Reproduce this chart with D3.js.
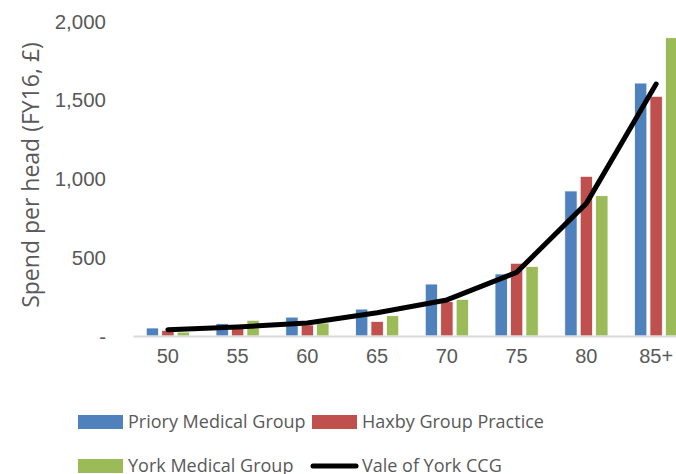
<!DOCTYPE html>
<html>
<head>
<meta charset="utf-8">
<script src="https://cdn.jsdelivr.net/npm/d3@7"></script>
<style>
  html, body { margin: 0; padding: 0; background: #fff; }
  svg { display: block; font-family: "Open Sans", "Liberation Sans", sans-serif; }
</style>
</head>
<body>
<svg id="chart" width="676" height="474"></svg>
<script>
// Age bands and spend per head (FY16, £)
const ageBands = ["50", "55", "60", "65", "70", "75", "80", "85+"];
const priory = [51, 80, 120, 171, 330, 394, 921, 1606];
const haxby = [36, 57, 70, 93, 218, 462, 1014, 1522];
const yorkMedical = [25, 100, 82, 129, 233, 442, 891, 1894];
const valeOfYork = [40, 57, 83, 148, 229, 404, 842, 1600];
const yTicks = [0, 500, 1000, 1500, 2000];

const barSeries = [
  { name: "Priory Medical Group", values: priory, color: "#4F81BD" },
  { name: "Haxby Group Practice", values: haxby, color: "#C0504D" },
  { name: "York Medical Group", values: yorkMedical, color: "#9BBB59" }
];
const lineSeries = { name: "Vale of York CCG", values: valeOfYork, color: "#000000" };

const svg = d3.select("#chart");
const textColor = "#595959";

const x = d3.scaleBand().domain(ageBands).range([133, 691]).paddingInner(0).paddingOuter(0);
const xInner = d3.scaleBand().domain(barSeries.map(s => s.name))
  .range([x.bandwidth() * 0.19, x.bandwidth() * 0.81]).paddingInner(0.2);
const y = d3.scaleLinear().domain([0, 2000]).range([336, 21]);

// Y axis labels
const yAxis = d3.axisLeft(y).tickValues(yTicks).tickSize(0).tickPadding(0)
  .tickFormat(d => d === 0 ? "-" : d3.format(",")(d));
const yg = svg.append("g").attr("transform", "translate(106,0)").call(yAxis);
yg.select(".domain").remove();
yg.selectAll("text").attr("fill", textColor).attr("font-size", 20.5).attr("dy", "0.35em");

// Axis title
svg.append("text")
  .attr("transform", "translate(39,175) rotate(-90)")
  .attr("text-anchor", "middle")
  .attr("font-size", 23)
  .attr("fill", textColor)
  .text("Spend per head (FY16, £)");

// Bars
const groups = svg.append("g").selectAll("g")
  .data(ageBands)
  .join("g")
  .attr("transform", d => `translate(${x(d)},0)`);

groups.selectAll("rect")
  .data((d, i) => barSeries.map(s => ({ series: s, value: s.values[i] })))
  .join("rect")
  .attr("x", d => xInner(d.series.name))
  .attr("width", xInner.bandwidth())
  .attr("y", d => y(d.value))
  .attr("height", d => y(0) - y(d.value))
  .attr("fill", d => d.series.color)
  .attr("stroke", "#fff")
  .attr("stroke-width", 0.8);

// Category axis
const xAxis = d3.axisBottom(x).tickSize(0).tickPadding(0);
const xg = svg.append("g").attr("transform", `translate(0,${y(0)})`).call(xAxis);
xg.select(".domain").attr("stroke", "#D9D9D9").attr("stroke-width", 2);
xg.selectAll("text").attr("fill", textColor).attr("font-size", 20).attr("dy", "1.35em");

// Line
const line = d3.line()
  .x((d, i) => x(ageBands[i]) + x.bandwidth() / 2)
  .y(d => y(d));
svg.append("path")
  .datum(lineSeries.values)
  .attr("d", line)
  .attr("fill", "none")
  .attr("stroke", lineSeries.color)
  .attr("stroke-width", 5)
  .attr("stroke-linejoin", "round")
  .attr("stroke-linecap", "round");

// Legend
const legendItems = [
  { s: barSeries[0], x: 78, y: 422, type: "rect" },
  { s: barSeries[1], x: 312, y: 422, type: "rect" },
  { s: barSeries[2], x: 78, y: 466, type: "rect" },
  { s: lineSeries, x: 312, y: 466, type: "line" }
];
const lg = svg.append("g").selectAll("g").data(legendItems).join("g")
  .attr("transform", d => `translate(${d.x},${d.y})`);
lg.filter(d => d.type === "rect").append("rect")
  .attr("x", 0).attr("y", -7).attr("width", 45).attr("height", 14)
  .attr("fill", d => d.s.color);
lg.filter(d => d.type === "line").append("line")
  .attr("x1", 1).attr("x2", 44).attr("y1", 0).attr("y2", 0)
  .attr("stroke", d => d.s.color).attr("stroke-width", 5).attr("stroke-linecap", "round");
lg.append("text")
  .attr("x", 50).attr("dy", "0.35em")
  .attr("font-size", 18).attr("fill", textColor)
  .text(d => d.s.name);
</script>
</body>
</html>
